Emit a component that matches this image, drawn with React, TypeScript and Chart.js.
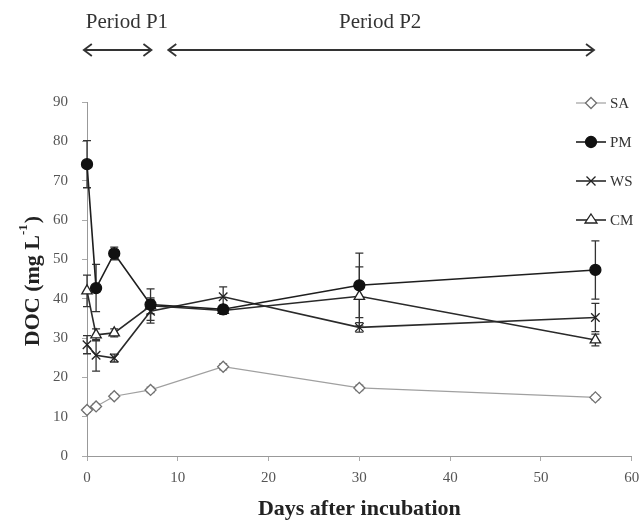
import React, { useEffect, useRef } from 'react';
import { Chart, registerables } from 'chart.js';

Chart.register(...registerables);

// ---- data ----
const days = [0, 1, 3, 7, 15, 30, 56];
const saValues = [11.7, 12.6, 15.2, 16.8, 22.7, 17.3, 14.9];
const saErrors = [0.6, 0.6, 0.6, 0.7, 0.8, 0.7, 0.6];
const pmValues = [74.2, 42.7, 51.5, 38.5, 37.3, 43.4, 47.3];
const pmErrors = [6, 6, 1.6, 4, 1, 8.2, 7.4];
const wsValues = [28.3, 25.6, 24.9, 36.8, 40.5, 32.7, 35.2];
const wsErrors = [2.3, 4, 1, 3, 2.5, 1.2, 3.6];
const cmValues = [42, 30.8, 31.3, 38.2, 37, 40.6, 29.5];
const cmErrors = [4, 1.5, 1, 2, 1, 7.5, 1.5];

const xTicks = [0, 10, 20, 30, 40, 50, 60];
const yTicks = [0, 10, 20, 30, 40, 50, 60, 70, 80, 90];

const seriesNames = ['SA', 'PM', 'WS', 'CM'];
const periodLabels = ['Period P1', 'Period P2'];
const periodStart = [-0.35, 8.95];
const periodEnd = [7.1, 55.85];
const periodLabelDay = [4.4, 32.3];

const yTitleMain = 'DOC (mg L';
const yTitleSup = '-1';
const yTitleEnd = ')';

const FONT = '"Liberation Serif", "Times New Roman", serif';

function pts(vals: number[]) {
  return days.map((d, i) => ({ x: d, y: vals[i] }));
}

const styles = [
  { color: '#a0a0a0', border: '#707070', fill: '#ffffff', point: 'rectRot', r: 5.5, lw: 1.2 },
  { color: '#1e1e1e', border: '#111111', fill: '#111111', point: 'circle', r: 5.5, lw: 1.6 },
  { color: '#2a2a2a', border: '#222222', fill: '#ffffff', point: 'crossRot', r: 6, lw: 1.6 },
  { color: '#2a2a2a', border: '#222222', fill: '#ffffff', point: 'triangle', r: 6, lw: 1.6 },
];

const errorBarPlugin = {
  id: 'errorBars',
  beforeDatasetsDraw(chart: any) {
    const { ctx, scales } = chart;
    const x = scales.x, y = scales.y;
    chart.data.datasets.forEach((ds: any) => {
      const errs: number[] = ds.errors;
      if (!errs) return;
      ctx.save();
      ctx.strokeStyle = ds.errColor || '#333';
      ctx.lineWidth = 1.3;
      ds.data.forEach((p: any, j: number) => {
        const e = errs[j];
        if (!e) return;
        const px = x.getPixelForValue(p.x);
        const t = y.getPixelForValue(p.y + e);
        const b = y.getPixelForValue(p.y - e);
        ctx.beginPath();
        ctx.moveTo(px, t);
        ctx.lineTo(px, b);
        ctx.moveTo(px - 4, t);
        ctx.lineTo(px + 4, t);
        ctx.moveTo(px - 4, b);
        ctx.lineTo(px + 4, b);
        ctx.stroke();
      });
      ctx.restore();
    });
  },
};

function drawMarker(ctx: CanvasRenderingContext2D, kind: string, cx: number, cy: number, r: number, fill: string, stroke: string) {
  ctx.save();
  ctx.fillStyle = fill;
  ctx.strokeStyle = stroke;
  ctx.lineWidth = 1.3;
  ctx.beginPath();
  if (kind === 'circle') {
    ctx.arc(cx, cy, r, 0, Math.PI * 2);
    ctx.fill();
    ctx.stroke();
  } else if (kind === 'rectRot') {
    ctx.moveTo(cx, cy - r);
    ctx.lineTo(cx + r, cy);
    ctx.lineTo(cx, cy + r);
    ctx.lineTo(cx - r, cy);
    ctx.closePath();
    ctx.fill();
    ctx.stroke();
  } else if (kind === 'crossRot') {
    const d = r * 0.75;
    ctx.moveTo(cx - d, cy - d);
    ctx.lineTo(cx + d, cy + d);
    ctx.moveTo(cx + d, cy - d);
    ctx.lineTo(cx - d, cy + d);
    ctx.stroke();
  } else if (kind === 'triangle') {
    const h = r * 1.5;
    const w = r * 1.0;
    ctx.moveTo(cx, cy - r);
    ctx.lineTo(cx + w, cy - r + h);
    ctx.lineTo(cx - w, cy - r + h);
    ctx.closePath();
    ctx.fill();
    ctx.stroke();
  }
  ctx.restore();
}

const legendPlugin = {
  id: 'customLegend',
  afterDraw(chart: any) {
    const { ctx } = chart;
    const ys = [103, 142, 181, 220];
    seriesNames.forEach((name, i) => {
      const s = styles[i];
      const yy = ys[i];
      ctx.save();
      ctx.strokeStyle = s.color;
      ctx.lineWidth = s.lw;
      ctx.beginPath();
      ctx.moveTo(576, yy);
      ctx.lineTo(606, yy);
      ctx.stroke();
      ctx.restore();
      drawMarker(ctx, s.point, 591, yy, s.r, s.fill, s.border);
      ctx.save();
      ctx.fillStyle = '#333';
      ctx.font = `15px ${FONT}`;
      ctx.textAlign = 'left';
      ctx.textBaseline = 'middle';
      ctx.fillText(name, 610, yy + 1);
      ctx.restore();
    });
  },
};

const periodPlugin = {
  id: 'periods',
  afterDraw(chart: any) {
    const { ctx } = chart;
    const x = chart.scales.x;
    const arrowY = 50;
    const textY = 22;
    ctx.save();
    ctx.strokeStyle = '#333';
    ctx.fillStyle = '#333';
    ctx.lineWidth = 1.8;
    ctx.font = `21px ${FONT}`;
    ctx.textAlign = 'center';
    ctx.textBaseline = 'middle';
    periodLabels.forEach((lbl, i) => {
      const x1 = x.getPixelForValue(periodStart[i]);
      const x2 = x.getPixelForValue(periodEnd[i]);
      ctx.beginPath();
      ctx.moveTo(x1, arrowY);
      ctx.lineTo(x2, arrowY);
      ctx.moveTo(x1 + 8, arrowY - 6);
      ctx.lineTo(x1, arrowY);
      ctx.lineTo(x1 + 8, arrowY + 6);
      ctx.moveTo(x2 - 8, arrowY - 6);
      ctx.lineTo(x2, arrowY);
      ctx.lineTo(x2 - 8, arrowY + 6);
      ctx.stroke();
      ctx.fillText(lbl, x.getPixelForValue(periodLabelDay[i]), textY);
    });
    ctx.restore();
  },
};

const yTitlePlugin = {
  id: 'yTitle',
  afterDraw(chart: any) {
    const { ctx, chartArea } = chart;
    const cy = (chartArea.top + chartArea.bottom) / 2 + 2;
    const cx = 33;
    ctx.save();
    ctx.fillStyle = '#222';
    ctx.textBaseline = 'middle';
    ctx.textAlign = 'left';
    const big = `bold 22px ${FONT}`;
    const small = `bold 13px ${FONT}`;
    ctx.font = big;
    const w1 = ctx.measureText(yTitleMain).width;
    const w3 = ctx.measureText(yTitleEnd).width;
    ctx.font = small;
    const w2 = ctx.measureText(yTitleSup).width;
    const total = w1 + w2 + 1 + w3;
    ctx.translate(cx, cy);
    ctx.rotate(-Math.PI / 2);
    let pos = -total / 2;
    ctx.font = big;
    ctx.fillText(yTitleMain, pos, 0);
    pos += w1;
    ctx.font = small;
    ctx.fillText(yTitleSup, pos, -9);
    pos += w2 + 1;
    ctx.font = big;
    ctx.fillText(yTitleEnd, pos, 0);
    ctx.restore();
  },
};

export default function App() {
  const ref = useRef<HTMLCanvasElement>(null);
  useEffect(() => {
    const valueSets = [saValues, pmValues, wsValues, cmValues];
    const errorSets = [saErrors, pmErrors, wsErrors, cmErrors];
    const datasets: any[] = seriesNames.map((name, i) => {
      const s = styles[i];
      return {
        label: name,
        data: pts(valueSets[i]),
        errors: errorSets[i],
        errColor: i === 0 ? '#8a8a8a' : '#333',
        borderColor: s.color,
        borderWidth: s.lw,
        pointStyle: s.point,
        pointRadius: s.r,
        pointBorderColor: s.border,
        pointBackgroundColor: s.fill,
        pointBorderWidth: 1.3,
        tension: 0,
        fill: false,
        clip: false,
      };
    });
    const tickFont = { family: FONT, size: 15 };
    const titleFont = { family: FONT, size: 22, weight: 'bold' as const };
    const chart = new Chart(ref.current!, {
      type: 'line',
      data: { datasets },
      options: {
        responsive: false,
        devicePixelRatio: 1,
        animation: false,
        layout: { padding: { top: 102, right: 3, left: 0, bottom: 0 } },
        plugins: { legend: { display: false }, tooltip: { enabled: false } },
        scales: {
          x: {
            type: 'linear',
            min: 0,
            max: 60,
            afterBuildTicks: (s: any) => {
              s.ticks = xTicks.map((v) => ({ value: v }));
            },
            ticks: { color: '#555', font: tickFont, padding: 8, maxRotation: 0 },
            grid: { drawOnChartArea: false, drawTicks: true, tickLength: 5, color: '#aaa' },
            border: { color: '#999', width: 1 },
            title: {
              display: true,
              text: 'Days after incubation',
              font: titleFont,
              color: '#222',
              padding: { top: 0, bottom: 1 },
            },
            afterFit: (s: any) => {
              s.height = 68;
              s.paddingRight = 0;
              s.paddingLeft = 0;
            },
          } as any,
          y: {
            type: 'linear',
            min: 0,
            max: 90,
            afterBuildTicks: (s: any) => {
              s.ticks = yTicks.map((v) => ({ value: v }));
            },
            ticks: { color: '#555', font: tickFont, padding: 14 },
            grid: { drawOnChartArea: false, drawTicks: true, tickLength: 5, color: '#aaa' },
            border: { color: '#999', width: 1 },
            title: { display: false },
            afterFit: (s: any) => {
              s.width = 87;
            },
          } as any,
        },
      },
      plugins: [errorBarPlugin, legendPlugin, periodPlugin, yTitlePlugin],
    });
    return () => chart.destroy();
  }, []);
  return (
    <div style={{ position: 'absolute', left: 0, top: 0, width: 639, height: 524, background: '#fff' }}>
      <canvas ref={ref} width={639} height={524} style={{ display: 'block', width: 639, height: 524 }} />
    </div>
  );
}
